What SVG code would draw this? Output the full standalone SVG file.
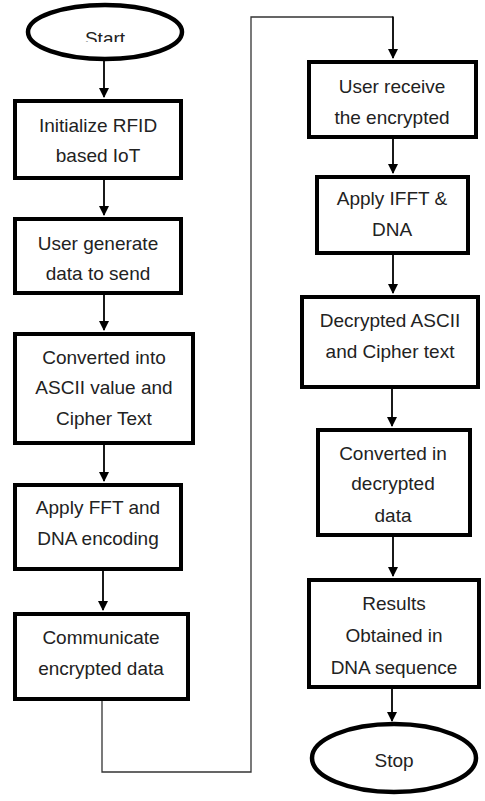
<svg xmlns="http://www.w3.org/2000/svg" width="485" height="801" viewBox="0 0 485 801">
<defs>
<style>
.box{fill:#fff;stroke:#000;stroke-width:4}
.term{fill:#fff;stroke:#000;stroke-width:4.5}
.t{font-family:"Liberation Sans",Arial,sans-serif;font-size:19px;fill:#222;text-anchor:middle}
.c{fill:none;stroke:#000;stroke-width:1.8}
.cl{fill:none;stroke:#333;stroke-width:1.3}
</style>
<marker id="ah" markerWidth="10" markerHeight="10" refX="9" refY="5" orient="auto" markerUnits="userSpaceOnUse">
<path d="M0,0 L10,5 L0,10 Z" fill="#000"/>
</marker>
<clipPath id="startclip"><rect x="0" y="0" width="250" height="42"/></clipPath>
</defs>
<rect width="485" height="801" fill="#fff"/>
<g id="connectors">
<line class="c" x1="104" y1="60" x2="104" y2="97" marker-end="url(#ah)"/>
<line class="c" x1="104" y1="180" x2="104" y2="215" marker-end="url(#ah)"/>
<line class="c" x1="104" y1="295" x2="104" y2="330" marker-end="url(#ah)"/>
<line class="c" x1="104" y1="445" x2="104" y2="481" marker-end="url(#ah)"/>
<line class="c" x1="103" y1="571" x2="103" y2="610" marker-end="url(#ah)"/>
<polyline class="cl" points="102,701 102,772 251,772 251,17 393,17"/>
<line class="c" x1="393" y1="16.5" x2="393" y2="58" marker-end="url(#ah)"/>
<line class="c" x1="393" y1="139" x2="393" y2="173" marker-end="url(#ah)"/>
<line class="c" x1="393" y1="255" x2="393" y2="293" marker-end="url(#ah)"/>
<line class="c" x1="392" y1="389" x2="392" y2="426" marker-end="url(#ah)"/>
<line class="c" x1="393" y1="537" x2="393" y2="576" marker-end="url(#ah)"/>
<line class="c" x1="392" y1="689" x2="392" y2="721" marker-end="url(#ah)"/>
</g>
<g id="start">
<ellipse class="term" cx="105" cy="32" rx="77" ry="27"/>
<text class="t" x="105" y="45" clip-path="url(#startclip)">Start</text>
</g>
<g id="n1">
<rect class="box" x="15" y="101" width="166" height="77"/>
<text class="t" x="98" y="132">Initialize RFID</text>
<text class="t" x="98" y="162">based IoT</text>
</g>
<g id="n2">
<rect class="box" x="15" y="219" width="166" height="74"/>
<text class="t" x="98" y="250">User generate</text>
<text class="t" x="98" y="280">data to send</text>
</g>
<g id="n3">
<rect class="box" x="15" y="334" width="178" height="109"/>
<text class="t" x="104" y="364">Converted into</text>
<text class="t" x="104" y="394">ASCII value and</text>
<text class="t" x="104" y="425">Cipher Text</text>
</g>
<g id="n4">
<rect class="box" x="15" y="485" width="166" height="84"/>
<text class="t" x="98" y="514">Apply FFT and</text>
<text class="t" x="98" y="545">DNA encoding</text>
</g>
<g id="n5">
<rect class="box" x="15" y="614" width="173" height="85"/>
<text class="t" x="101" y="644">Communicate</text>
<text class="t" x="101" y="675">encrypted data</text>
</g>
<g id="n6">
<rect class="box" x="309" y="62" width="167" height="75"/>
<text class="t" x="392" y="93">User receive</text>
<text class="t" x="392" y="124">the encrypted</text>
</g>
<g id="n7">
<rect class="box" x="317" y="177" width="151" height="76"/>
<text class="t" x="392" y="205">Apply IFFT &amp;</text>
<text class="t" x="392" y="236">DNA</text>
</g>
<g id="n8">
<rect class="box" x="302" y="297" width="176" height="90"/>
<text class="t" x="390" y="327">Decrypted ASCII</text>
<text class="t" x="390" y="358">and Cipher text</text>
</g>
<g id="n9">
<rect class="box" x="318" y="430" width="152" height="105"/>
<text class="t" x="393" y="460">Converted in</text>
<text class="t" x="393" y="490">decrypted</text>
<text class="t" x="393" y="522">data</text>
</g>
<g id="n10">
<rect class="box" x="309" y="580" width="170" height="107"/>
<text class="t" x="394" y="610">Results</text>
<text class="t" x="394" y="642">Obtained in</text>
<text class="t" x="394" y="674">DNA sequence</text>
</g>
<g id="stop">
<ellipse class="term" cx="394" cy="758" rx="82" ry="34"/>
<text class="t" x="394" y="767">Stop</text>
</g>
</svg>
